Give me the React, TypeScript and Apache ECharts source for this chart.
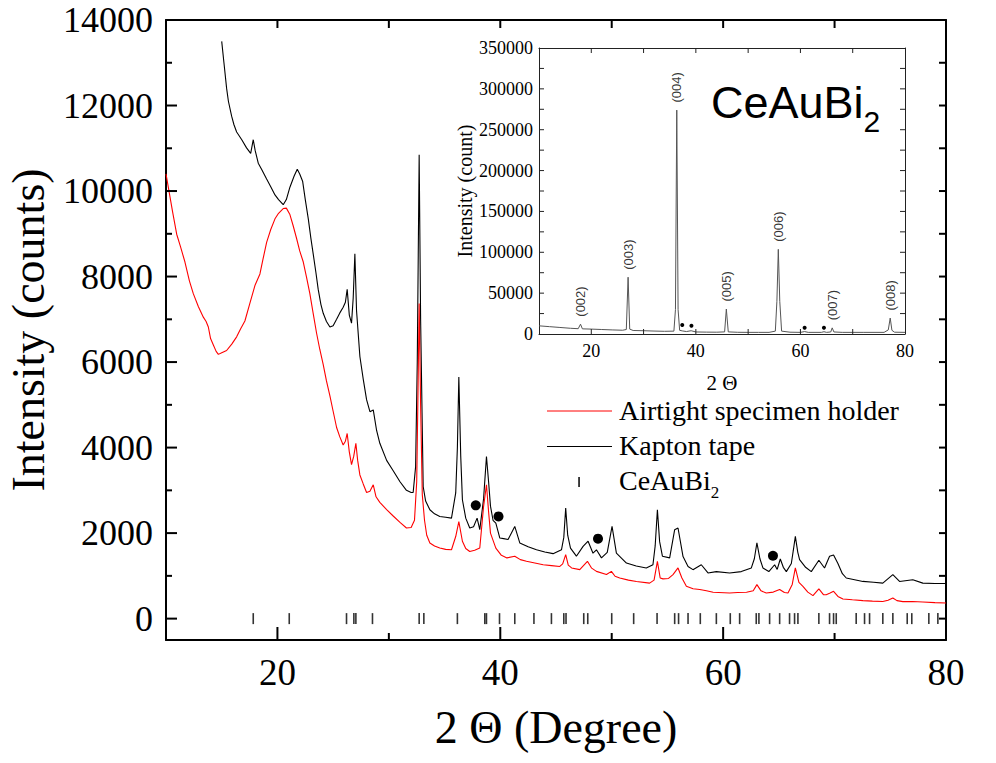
import React, { useEffect, useRef } from 'react';
import * as echarts from 'echarts';

// ---------- main panel data ----------
const airtight: [number, number][] = [
  [10.0, 10400], [10.3, 9950], [10.6, 9500], [10.96, 8990], [11.3, 8700], [11.7, 8340], [12.1, 7900],
  [12.45, 7600], [12.9, 7300], [13.35, 7050], [13.6, 6950], [13.8, 6820], [14.0, 6550], [14.25, 6400],
  [14.5, 6250], [14.7, 6180], [15.0, 6220], [15.44, 6270], [15.9, 6420], [16.34, 6590], [16.7, 6780],
  [17.08, 6960], [17.5, 7350], [17.98, 7790], [18.43, 8060], [18.7, 8400], [19.03, 8800], [19.4, 9100],
  [19.78, 9350], [20.1, 9480], [20.52, 9590], [20.8, 9600], [21.12, 9450], [21.4, 9200], [21.72, 8890],
  [22.0, 8600], [22.32, 8340], [22.6, 8000], [22.91, 7600], [23.2, 7150], [23.51, 6680], [23.8, 6300],
  [24.11, 5940], [24.4, 5560], [24.71, 5210], [25.0, 4850], [25.31, 4470], [25.6, 4250], [25.9, 4060],
  [26.1, 4150], [26.26, 4330], [26.45, 3900], [26.65, 3600], [26.85, 3800], [27.04, 4100], [27.2, 3700],
  [27.4, 3360], [27.7, 3150], [28.0, 2950], [28.3, 2980], [28.6, 3130], [28.85, 2850], [29.19, 2720],
  [29.8, 2550], [30.39, 2400], [31.0, 2250], [31.58, 2120], [32.0, 2130], [32.3, 2300], [32.5, 3200],
  [32.6, 5000], [32.72, 7370], [32.85, 5000], [33.0, 2900], [33.2, 2300], [33.4, 1950], [33.68, 1770],
  [34.1, 1700], [34.57, 1650], [35.1, 1620], [35.62, 1610], [36.0, 1920], [36.28, 2270], [36.6, 1810],
  [36.9, 1640], [37.26, 1570], [37.7, 1600], [38.16, 1650], [38.5, 2620], [38.76, 3130], [38.95, 2500],
  [39.12, 2000], [39.6, 1650], [40.1, 1480], [40.6, 1420], [41.3, 1460], [41.8, 1380], [42.35, 1340],
  [43.1, 1300], [43.85, 1260], [44.6, 1240], [45.34, 1220], [45.6, 1280], [45.87, 1495], [46.1, 1250],
  [46.4, 1185], [47.13, 1145], [47.82, 1340], [48.2, 1180], [48.63, 1105], [49.53, 1030], [49.97, 1105],
  [50.3, 990], [50.72, 950], [51.5, 900], [52.22, 870], [53.4, 830], [53.8, 900], [54.1, 1340],
  [54.35, 950], [54.6, 930], [55.1, 940], [55.5, 1030], [55.95, 1185], [56.3, 950], [56.7, 755],
  [57.3, 700], [57.9, 680], [58.5, 650], [59.1, 615], [60.58, 600], [61.3, 610], [62.1, 615],
  [62.7, 650], [63.03, 795], [63.4, 650], [63.87, 600], [64.5, 620], [65.07, 680], [65.5, 610],
  [65.82, 600], [66.2, 800], [66.48, 1185], [66.8, 850], [67.16, 755], [67.6, 620], [68.06, 537],
  [68.59, 694], [69.0, 560], [69.25, 560], [69.6, 600], [69.91, 638], [70.3, 520], [70.75, 460],
  [71.6, 440], [72.54, 420], [73.4, 410], [74.33, 400], [74.8, 430], [75.23, 483], [75.6, 420],
  [76.13, 397], [77.0, 400], [77.92, 390], [79.0, 375], [80.0, 367],
];

const kapton: [number, number][] = [
  [15.0, 13500], [15.2, 13000], [15.44, 12400], [15.6, 12100], [15.89, 11750], [16.1, 11550],
  [16.34, 11380], [16.8, 11200], [17.23, 11010], [17.6, 10880], [17.83, 11200], [18.0, 10950],
  [18.28, 10650], [18.6, 10500], [19.03, 10280], [19.4, 10100], [19.78, 9910], [20.1, 9800],
  [20.52, 9680], [20.8, 9800], [21.12, 10090], [21.5, 10350], [21.78, 10510], [22.0, 10400],
  [22.26, 10230], [22.5, 9800], [22.77, 9350], [23.0, 8900], [23.21, 8530], [23.45, 8100],
  [23.66, 7700], [23.9, 7350], [24.11, 7140], [24.4, 6950], [24.71, 6820], [25.0, 6850],
  [25.31, 7000], [25.6, 7150], [25.9, 7280], [26.1, 7400], [26.26, 7700], [26.45, 7100],
  [26.65, 6910], [26.8, 7500], [26.95, 8530], [27.1, 7200], [27.4, 6130], [27.7, 5600],
  [28.0, 5120], [28.3, 4840], [28.6, 4880], [28.9, 4400], [29.19, 4100], [29.8, 3700],
  [30.39, 3460], [31.0, 3200], [31.58, 3000], [32.0, 2950], [32.18, 2950], [32.4, 3550],
  [32.55, 6000], [32.72, 10850], [32.85, 7000], [33.08, 3090], [33.3, 2750], [33.68, 2547],
  [34.1, 2450], [34.57, 2390], [35.1, 2370], [35.62, 2350], [36.0, 2940], [36.15, 4000],
  [36.28, 5650], [36.45, 3800], [36.6, 2780], [36.9, 2350], [37.26, 2120], [37.6, 2150],
  [37.92, 2350], [38.16, 2080], [38.5, 2800], [38.76, 3790], [38.95, 3200], [39.12, 2630],
  [39.35, 2300], [39.6, 2235], [39.96, 1885], [40.3, 1870], [40.7, 1850], [41.3, 2157],
  [41.75, 1770], [42.5, 1680], [43.25, 1610], [44.0, 1560], [44.74, 1520], [45.49, 1610],
  [45.7, 1900], [45.87, 2585], [46.05, 1950], [46.3, 1650], [46.83, 1460], [47.43, 1690],
  [47.88, 1810], [48.32, 1530], [48.63, 1610], [49.08, 1420], [49.6, 1550], [50.03, 2157],
  [50.42, 1530], [51.32, 1300], [52.2, 1230], [53.1, 1185], [53.7, 1260], [53.9, 1700],
  [54.1, 2547], [54.3, 1800], [54.55, 1460], [55.2, 1420], [55.65, 2080], [55.95, 2120],
  [56.4, 1450], [56.85, 1220], [57.29, 1145], [58.04, 1260], [58.64, 1068], [59.39, 1100],
  [60.58, 1068], [61.63, 1100], [62.53, 1185], [62.8, 1400], [63.03, 1770], [63.3, 1400],
  [63.57, 1185], [64.1, 1100], [64.62, 1260], [64.85, 1150], [65.13, 1395], [65.4, 1200],
  [65.67, 1100], [66.12, 1290], [66.3, 1600], [66.48, 1925], [66.7, 1550], [66.86, 1380],
  [67.4, 1200], [67.91, 1100], [68.59, 1365], [69.1, 1185], [69.55, 1460], [69.91, 1490],
  [70.3, 1290], [70.7, 1050], [71.05, 950], [72.54, 870], [73.5, 850], [74.33, 830],
  [75.23, 1030], [75.83, 870], [77.02, 910], [77.92, 830], [79.0, 820], [80.0, 820],
];

// CeAuBi2 reflection positions (2θ)
const reflections = [
  17.83, 21.06, 26.2, 26.86, 27.04, 28.53, 32.72, 33.14, 36.15, 38.61, 38.76, 39.93, 41.3, 43.02,
  44.59, 45.7, 45.9, 47.49, 47.85, 50.0, 51.97, 54.07, 55.65, 56.0, 56.85, 57.95, 59.39, 60.64,
  61.48, 62.97, 63.21, 64.17, 65.07, 65.96, 66.41, 66.71, 68.59, 69.55, 69.91, 70.15, 71.94,
  72.69, 73.14, 74.33, 75.23, 76.52, 76.93, 78.46, 79.27,
];

// impurity markers
const impurityDots: [number, number][] = [[37.8, 2650], [39.84, 2390], [48.77, 1870], [64.47, 1470]];

// ---------- inset data ----------
const insetPattern: [number, number][] = [
  [10, 10000], [12, 9000], [14, 8000], [16, 7000], [17.5, 6500], [17.94, 12000], [18.3, 6300],
  [20, 6000], [22, 5500], [24, 5000], [26, 4600], [26.7, 5500], [27.04, 69500], [27.35, 6000],
  [28, 4300], [30, 4000], [32, 3600], [34, 3300], [35.8, 3500], [36.1, 30000], [36.35, 274000],
  [36.6, 30000], [36.9, 4500], [37.4, 3800], [38.2, 3000], [39.1, 4000], [40, 2500], [42, 2300],
  [44, 2200], [45.5, 2600], [45.83, 30500], [46.2, 2600], [48, 2100], [50, 2000], [52, 2000],
  [54, 2000], [55.2, 3500], [55.5, 40000], [55.77, 103600], [56.05, 40000], [56.4, 3500],
  [58, 2200], [60, 2000], [60.8, 3000], [61.5, 2000], [64, 2000], [64.5, 2800], [65, 2000],
  [65.8, 2500], [66.08, 7500], [66.4, 2500], [68, 2000], [72, 2000], [76, 2000], [76.8, 5000],
  [77.17, 19500], [77.5, 4500], [78, 2200], [80, 2000],
];
const insetPeakHkl = ['(002)', '(003)', '(004)', '(005)', '(006)', '(007)', '(008)'];
const insetPeakX = [17.94, 27.04, 36.35, 45.83, 55.77, 66.08, 77.17];
const insetPeakY = [12000, 69500, 274000, 30500, 103600, 7500, 19500];
const insetDots: [number, number][] = [[37.4, 11000], [39.15, 10000], [60.8, 7700], [64.5, 7700]];

// ---------- ticks ----------
const xMajor = [20, 40, 60, 80];
const xMinor = [30, 50, 70];
const xTop = [20, 30, 40, 50, 60, 70];
const yMajor = [0, 2000, 4000, 6000, 8000, 10000, 12000, 14000];
const yMinor = [1000, 3000, 5000, 7000, 9000, 11000, 13000];
const yRight = [0, 1000, 2000, 3000, 4000, 5000, 6000, 7000, 8000, 9000, 10000, 11000, 12000, 13000];
const insetXTicks = [20, 30, 40, 50, 60, 70];
const insetYTicks = [25000, 50000, 75000, 100000, 125000, 150000, 175000, 200000, 225000, 250000, 275000, 300000, 325000];

const serif = '"Liberation Serif", "Times New Roman", serif';
const sans = '"Liberation Sans", Arial, sans-serif';

// layout of the two panels
const MAIN = { left: 166, top: 20, width: 780, height: 620, xMin: 10, xMax: 80, yMin: -500, yMax: 14000 };
const INSET = { left: 539, top: 48, width: 366, height: 286, xMin: 10, xMax: 80, yMin: 0, yMax: 350000 };

type Panel = typeof MAIN;
const px = (p: Panel, v: number) => p.left + ((v - p.xMin) / (p.xMax - p.xMin)) * p.width;
const py = (p: Panel, v: number) => p.top + p.height - ((v - p.yMin) / (p.yMax - p.yMin)) * p.height;

function tickLines(): any[] {
  const out: any[] = [];
  const seg = (x1: number, y1: number, x2: number, y2: number, w: number, c: string) =>
    out.push({ type: 'line', silent: true, z: 100, shape: { x1, y1, x2, y2 }, style: { stroke: c, lineWidth: w } });
  const mb = MAIN.top + MAIN.height;
  xMajor.forEach((v) => seg(px(MAIN, v), mb, px(MAIN, v), mb - 13, 2, '#000'));
  xMinor.forEach((v) => seg(px(MAIN, v), mb, px(MAIN, v), mb - 7, 2, '#000'));
  xTop.forEach((v) => seg(px(MAIN, v), MAIN.top, px(MAIN, v), MAIN.top + 8, 2, '#000'));
  yMajor.forEach((v) => seg(MAIN.left, py(MAIN, v), MAIN.left + 11, py(MAIN, v), 2, '#000'));
  yMinor.forEach((v) => seg(MAIN.left, py(MAIN, v), MAIN.left + 6, py(MAIN, v), 2, '#000'));
  const mr = MAIN.left + MAIN.width;
  yRight.forEach((v) => seg(mr, py(MAIN, v), mr - 7, py(MAIN, v), 2, '#000'));
  const ib = INSET.top + INSET.height;
  const ir = INSET.left + INSET.width;
  insetXTicks.forEach((v) => {
    seg(px(INSET, v), ib, px(INSET, v), ib - 5, 1, '#222');
    seg(px(INSET, v), INSET.top, px(INSET, v), INSET.top + 5, 1, '#222');
  });
  insetYTicks.forEach((v) => {
    seg(INSET.left, py(INSET, v), INSET.left + 5, py(INSET, v), 1, '#222');
    seg(ir, py(INSET, v), ir - 5, py(INSET, v), 1, '#222');
  });
  return out;
}

function legendGraphics(): any[] {
  return [
    {
      type: 'text', left: 711, top: 80,
      style: {
        text: '{a|CeAuBi}{b|2}', fill: '#000',
        rich: {
          a: { fontSize: 45, lineHeight: 45, fontFamily: sans, verticalAlign: 'top' },
          b: { fontSize: 30, lineHeight: 30, fontFamily: sans, verticalAlign: 'top', padding: [26, 0, 0, 0] },
        },
      },
    },
    { type: 'line', shape: { x1: 547, y1: 411, x2: 612, y2: 411 }, style: { stroke: '#ff0000', lineWidth: 1 } },
    {
      type: 'text', x: 619, y: 410.5,
      style: { text: 'Airtight specimen holder', fontSize: 28, fontFamily: serif, fill: '#000', verticalAlign: 'middle' },
    },
    { type: 'line', shape: { x1: 547, y1: 446.5, x2: 612, y2: 446.5 }, style: { stroke: '#000', lineWidth: 1 } },
    {
      type: 'text', x: 619, y: 445.5,
      style: { text: 'Kapton tape', fontSize: 28, fontFamily: serif, fill: '#000', verticalAlign: 'middle' },
    },
    { type: 'rect', shape: { x: 578.3, y: 477, width: 1.5, height: 10 }, style: { fill: '#000' } },
    {
      type: 'text', x: 619, y: 466.5,
      style: {
        text: '{a|CeAuBi}{b|2}', fill: '#000', verticalAlign: 'top',
        rich: {
          a: { fontSize: 28, lineHeight: 28, fontFamily: serif, verticalAlign: 'top' },
          b: { fontSize: 17, lineHeight: 17, fontFamily: serif, verticalAlign: 'top', padding: [17.6, 0, 0, 0] },
        },
      },
    },
  ];
}

function buildOption() {
  const axLine = { show: true, onZero: false, lineStyle: { color: '#000', width: 2 } };
  const inLine = { show: true, onZero: false, lineStyle: { color: '#222', width: 1 } };
  const noTick = { show: false };
  const plain = (v: number) => String(v);
  return {
    animation: false,
    backgroundColor: '#ffffff',
    grid: [
      { left: MAIN.left, top: MAIN.top, width: MAIN.width, height: MAIN.height, outerBoundsMode: 'none' },
      { left: INSET.left, top: INSET.top, width: INSET.width, height: INSET.height, outerBoundsMode: 'none' },
    ],
    xAxis: [
      {
        gridIndex: 0, type: 'value', min: MAIN.xMin, max: MAIN.xMax, position: 'bottom',
        axisLine: axLine, axisTick: noTick,
        axisLabel: { customValues: xMajor, fontSize: 37, fontFamily: serif, color: '#000', margin: 14, formatter: plain },
        splitLine: { show: false },
        name: '2 Θ (Degree)', nameLocation: 'middle', nameGap: 64,
        nameTextStyle: { fontSize: 46, fontFamily: serif, color: '#000' },
      },
      {
        gridIndex: 0, type: 'value', min: MAIN.xMin, max: MAIN.xMax, position: 'top',
        axisLine: axLine, axisTick: noTick,
        axisLabel: { show: false }, splitLine: { show: false },
      },
      {
        gridIndex: 1, type: 'value', min: INSET.xMin, max: INSET.xMax, interval: 10, position: 'bottom',
        axisLine: inLine, axisTick: noTick,
        axisLabel: {
          fontSize: 18, fontFamily: serif, color: '#000', margin: 8,
          formatter: (v: number) => (v % 20 === 0 ? String(v) : ''),
        },
        splitLine: { show: false },
        name: '2 Θ', nameLocation: 'middle', nameGap: 38,
        nameTextStyle: { fontSize: 21, fontFamily: serif, color: '#000' },
      },
      {
        gridIndex: 1, type: 'value', min: INSET.xMin, max: INSET.xMax, position: 'top',
        axisLine: inLine, axisTick: noTick,
        axisLabel: { show: false }, splitLine: { show: false },
      },
    ],
    yAxis: [
      {
        gridIndex: 0, type: 'value', min: MAIN.yMin, max: MAIN.yMax, position: 'left',
        axisLine: axLine, axisTick: noTick,
        axisLabel: { customValues: yMajor, fontSize: 36, fontFamily: serif, color: '#000', margin: 13, formatter: plain },
        splitLine: { show: false },
        name: 'Intensity (counts)', nameLocation: 'middle', nameGap: 115,
        nameTextStyle: { fontSize: 46, fontFamily: serif, color: '#000' },
      },
      {
        gridIndex: 0, type: 'value', min: MAIN.yMin, max: MAIN.yMax, position: 'right',
        axisLine: axLine, axisTick: noTick,
        axisLabel: { show: false }, splitLine: { show: false },
      },
      {
        gridIndex: 1, type: 'value', min: INSET.yMin, max: INSET.yMax, interval: 50000, position: 'left',
        axisLine: inLine, axisTick: noTick,
        axisLabel: { fontSize: 18, fontFamily: serif, color: '#000', margin: 6, formatter: plain },
        splitLine: { show: false },
        name: 'Intensity (count)', nameLocation: 'middle', nameGap: 63,
        nameTextStyle: { fontSize: 20, fontFamily: serif, color: '#000' },
      },
      {
        gridIndex: 1, type: 'value', min: INSET.yMin, max: INSET.yMax, position: 'right',
        axisLine: inLine, axisTick: noTick,
        axisLabel: { show: false }, splitLine: { show: false },
      },
    ],
    series: [
      {
        name: 'Kapton tape', type: 'line', xAxisIndex: 0, yAxisIndex: 0, data: kapton,
        symbol: 'none', lineStyle: { color: '#000', width: 1.1 }, itemStyle: { color: '#000' },
      },
      {
        name: 'Airtight specimen holder', type: 'line', xAxisIndex: 0, yAxisIndex: 0, data: airtight,
        symbol: 'none', lineStyle: { color: '#ff0000', width: 1.1 }, itemStyle: { color: '#ff0000' },
      },
      {
        name: 'CeAuBi2', type: 'scatter', xAxisIndex: 0, yAxisIndex: 0,
        data: reflections.map((x) => [x, 0]),
        symbol: 'rect', symbolSize: [1.6, 11], itemStyle: { color: '#000' },
      },
      {
        name: 'impurity', type: 'scatter', xAxisIndex: 0, yAxisIndex: 0, data: impurityDots,
        symbol: 'circle', symbolSize: 10, itemStyle: { color: '#000', opacity: 1 },
      },
      {
        name: 'inset', type: 'line', xAxisIndex: 2, yAxisIndex: 2, data: insetPattern,
        symbol: 'none', lineStyle: { color: '#555', width: 1 },
      },
      {
        name: 'hkl', type: 'scatter', xAxisIndex: 2, yAxisIndex: 2,
        data: insetPeakHkl.map((n, i) => ({ name: n, value: [insetPeakX[i], insetPeakY[i]] })),
        symbolSize: 1, itemStyle: { color: 'rgba(0,0,0,0)' },
        label: {
          show: true, formatter: '{b}', position: 'top', distance: 7, rotate: 90,
          align: 'left', verticalAlign: 'middle',
          fontSize: 13, fontFamily: sans, color: '#000',
        },
      },
      {
        name: 'insetDots', type: 'scatter', xAxisIndex: 2, yAxisIndex: 2, data: insetDots,
        symbol: 'circle', symbolSize: 4, itemStyle: { color: '#000', opacity: 1 },
      },
    ],
    graphic: [...legendGraphics(), ...tickLines()],
  };
}

export default function App() {
  const ref = useRef<HTMLDivElement>(null);
  useEffect(() => {
    document.body.style.margin = '0';
    const chart = echarts.init(ref.current as HTMLDivElement, null, { renderer: 'svg' });
    chart.setOption(buildOption() as any);
    return () => chart.dispose();
  }, []);
  return <div ref={ref} style={{ width: 996, height: 763 }} />;
}
